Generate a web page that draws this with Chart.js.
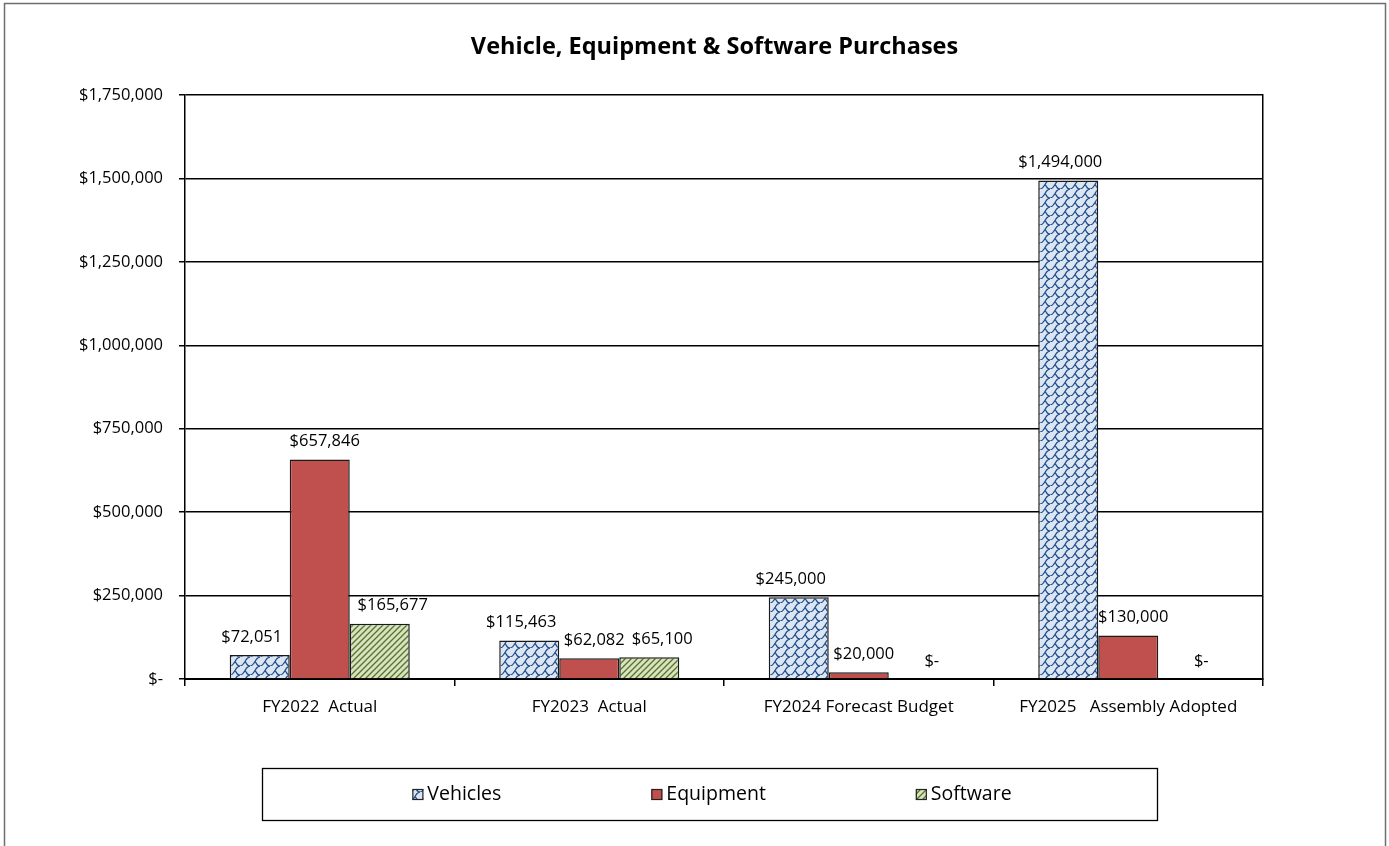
<!DOCTYPE html>
<html><head><meta charset="utf-8">
<script src="https://cdn.jsdelivr.net/npm/chart.js@4/dist/chart.umd.min.js"></script>
<style>html,body{margin:0;padding:0;background:#fff;overflow:hidden;}canvas{display:block;}</style>
</head><body>
<canvas id="c" width="1389" height="846"></canvas>
<script>
// ---- data ----
const categories = ['FY2022  Actual', 'FY2023  Actual', 'FY2024 Forecast Budget', 'FY2025   Assembly Adopted'];
const vehicles = [72051, 115463, 245000, 1494000];
const equipment = [657846, 62082, 20000, 130000];
const software = [165677, 65100, 0, 0];
const seriesNames = ['Vehicles', 'Equipment', 'Software'];
const yTickValues = [0, 250000, 500000, 750000, 1000000, 1250000, 1500000, 1750000];
const titleText = 'Vehicle, Equipment & Software Purchases';

const FONT = "'Open Sans', 'Noto Sans', sans-serif";
const fmt = v => v === 0 ? '$-' : '$' + v.toLocaleString('en-US');

function wavePattern() {
  const c = document.createElement('canvas'); c.width = 10; c.height = 9;
  const x = c.getContext('2d');
  x.fillStyle = '#dce6f2'; x.fillRect(0, 0, 10, 9);
  x.strokeStyle = '#1c4a88'; x.lineWidth = 1.25;
  x.beginPath();
  x.moveTo(0, 9); x.bezierCurveTo(5, 9, 5, 0, 10, 0);
  x.moveTo(-10, 9); x.bezierCurveTo(-5, 9, -5, 0, 0, 0);
  x.moveTo(0, 18); x.bezierCurveTo(5, 18, 5, 9, 10, 9);
  x.moveTo(5, 4.5); x.bezierCurveTo(7, 6, 6, 9, 10, 9);
  x.moveTo(-5, 4.5); x.bezierCurveTo(-3, 6, -4, 9, 0, 9);
  x.moveTo(5, 13.5); x.bezierCurveTo(7, 15, 6, 18, 10, 18);
  x.moveTo(5, -4.5); x.bezierCurveTo(7, -3, 6, 0, 10, 0);
  x.stroke();
  return x.createPattern(c, 'repeat');
}
function stripePattern() {
  const c = document.createElement('canvas'); c.width = 6; c.height = 6;
  const x = c.getContext('2d');
  x.fillStyle = '#d7e4bd'; x.fillRect(0, 0, 6, 6);
  x.strokeStyle = '#5a7030'; x.lineWidth = 1.3;
  x.beginPath();
  x.moveTo(-1, 7); x.lineTo(7, -1);
  x.moveTo(-1, 1); x.lineTo(1, -1);
  x.moveTo(5, 7); x.lineTo(7, 5);
  x.stroke();
  return x.createPattern(c, 'repeat');
}
const fills = [wavePattern(), '#c0504d', stripePattern()];
const labelShift = [-8, 5, 13];

const frame = {
  id: 'frame',
  beforeDraw(chart) {
    const ctx = chart.ctx;
    ctx.save();
    ctx.fillStyle = '#fff'; ctx.fillRect(0, 0, chart.width, chart.height);
    ctx.strokeStyle = '#6e6e6e'; ctx.lineWidth = 1.5;
    ctx.strokeRect(4.5, 3.5, 1381, 900);
    ctx.restore();
  },
  afterDraw(chart) {
    const ctx = chart.ctx;
    ctx.save();
    // legend
    const bx = 262.5, by = 768.5, bw = 895, bh = 52;
    ctx.strokeStyle = '#000'; ctx.lineWidth = 1.3;
    ctx.strokeRect(bx, by, bw, bh);
    ctx.font = '19.5px ' + FONT;
    const sw = 11, tg = 4, gap = 150;
    const widths = seriesNames.map(n => sw + tg + ctx.measureText(n).width);
    const total = widths.reduce((s, w) => s + w, 0) + gap * (seriesNames.length - 1);
    let x = bx + bw / 2 - total / 2 + 2;
    const cy = by + bh / 2;
    seriesNames.forEach((n, i) => {
      ctx.fillStyle = fills[i];
      ctx.fillRect(x, cy - sw / 2, sw, sw);
      ctx.strokeStyle = '#222'; ctx.lineWidth = 1.2;
      ctx.strokeRect(x + 0.5, cy - sw / 2 + 0.5, sw - 1, sw - 1);
      ctx.fillStyle = '#000'; ctx.textAlign = 'left'; ctx.textBaseline = 'middle';
      ctx.fillText(n, x + sw + tg, cy);
      x += widths[i] + gap;
    });
    ctx.restore();
  }
};

const barLabels = {
  id: 'barLabels',
  afterDatasetsDraw(chart) {
    const ctx = chart.ctx;
    ctx.save();
    ctx.font = '16.5px ' + FONT;
    ctx.fillStyle = '#000'; ctx.textAlign = 'center'; ctx.textBaseline = 'middle';
    chart.data.datasets.forEach((ds, di) => {
      chart.getDatasetMeta(di).data.forEach((bar, i) => {
        ctx.fillText(fmt(ds.data[i]), bar.x + labelShift[di], bar.y - 18);
      });
    });
    ctx.restore();
  }
};

const datasets = [vehicles, equipment, software].map((d, i) => ({
  label: seriesNames[i],
  data: d,
  backgroundColor: fills[i],
  borderColor: '#1a1a1a',
  borderWidth: 1.5,
  categoryPercentage: 0.668,
  barPercentage: 1.0
}));

new Chart(document.getElementById('c'), {
  type: 'bar',
  data: { labels: categories, datasets },
  plugins: [frame, barLabels],
  options: {
    responsive: false,
    devicePixelRatio: 1,
    animation: false,
    layout: { padding: { top: 0, left: 40, right: 0, bottom: 0 } },
    plugins: {
      legend: { display: false },
      tooltip: { enabled: false },
      title: {
        display: true, text: titleText, color: '#000',
        font: { family: FONT, size: 23.5, weight: 'bold' },
        padding: { top: 33, bottom: 33.8 }
      }
    },
    scales: {
      x: {
        offset: true,
        grid: { offset: true, drawOnChartArea: false, drawTicks: true, tickLength: 7, color: '#000', lineWidth: 1.5 },
        border: { color: '#000', width: 2 },
        ticks: { color: '#000', font: { family: FONT, size: 17 }, padding: 11, maxRotation: 0, autoSkip: false },
        afterFit(s) { s.height = 167; }
      },
      y: {
        min: 0, max: 1750000,
        afterBuildTicks(s) { s.ticks = yTickValues.map(v => ({ value: v })); },
        grid: { color: '#000', lineWidth: 1.5, tickLength: 6, drawTicks: true },
        border: { color: '#000', width: 1.5 },
        ticks: { color: '#000', font: { family: FONT, size: 16.5 }, padding: 16, callback: v => fmt(v) },
        afterFit(s) { s.width = 145; }
      },
      y2: {
        position: 'right',
        min: 0, max: 1750000,
        grid: { drawOnChartArea: false, drawTicks: false },
        border: { color: '#000', width: 1.5 },
        ticks: { display: false },
        afterFit(s) { s.width = 126; }
      }
    }
  }
});
</script>
</body></html>
